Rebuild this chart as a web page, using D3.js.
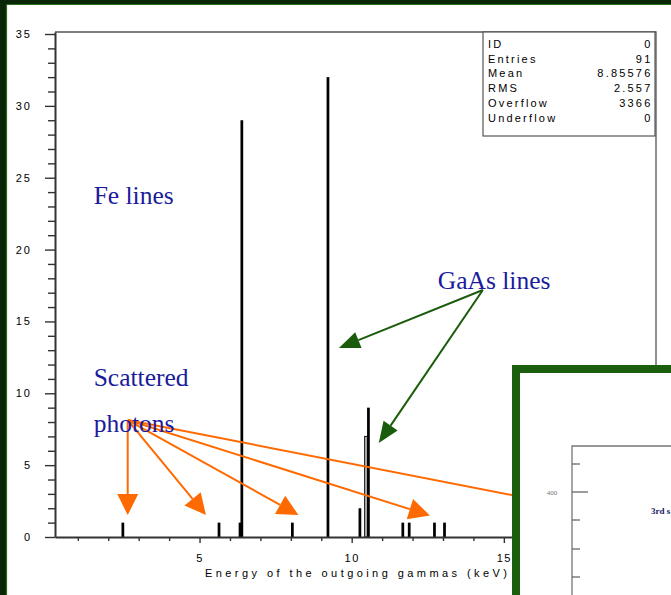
<!DOCTYPE html>
<html>
<head>
<meta charset="utf-8">
<script src="https://cdn.jsdelivr.net/npm/d3@7"></script>
<style>
  body { margin: 0; background: #fff; }
  svg { display: block; }
</style>
</head>
<body>
<div id="chart"></div>
<script>
// histogram lines (keV, counts)
const energies = [2.48, 5.64, 6.33, 6.39, 8.05, 9.22, 10.27, 10.55, 11.68, 11.89, 12.72, 13.05];
const counts   = [1, 1, 1, 29, 1, 32, 2, 9, 1, 1, 1, 1];
// second (grey) histogram
const greyEnergies = [10.47];
const greyCounts   = [7];

const yMajorTicks = [0, 5, 10, 15, 20, 25, 30, 35];
const xMajorTicks = [5, 10, 15, 20];

const statNames  = ["ID", "Entries", "Mean", "RMS", "Overflow", "Underflow"];
const statValues = ["0", "91", "8.85576", "2.557", "3366", "0"];

// annotations, in data coordinates (keV, counts)
const labels = [
    { text: "Fe lines",   e: 1.52,  v: 23.17 },
    { text: "GaAs lines", e: 12.83, v: 17.26 },
    { text: "Scattered",  e: 1.52,  v: 10.5 },
    { text: "photons",    e: 1.52,  v: 7.31 }
];
const greenFrom = { e: 14.31, v: 17.19 };
const greenTips = [{ e: 9.58, v: 13.15 }, { e: 10.89, v: 6.54 }];
const orangeFrom = { e: 2.64, v: 8.14 };
const orangeTips = [{ e: 2.64, v: 1.53 }, { e: 5.21, v: 1.53 }, { e: 8.25, v: 1.53 }, { e: 12.57, v: 1.5 }];
const orangeLong = { e: 18.8, v: 1.46 };

function drawChart() {
    const W = 671, H = 595;
    const svg = d3.select("#chart").append("svg")
        .attr("width", W)
        .attr("height", H);

    // dark green slide frame
    svg.append("rect").attr("x", 0).attr("y", 0).attr("width", W).attr("height", 5).attr("fill", "#0b2507");
    svg.append("rect").attr("x", 0).attr("y", 0).attr("width", 7).attr("height", H).attr("fill", "#0b2507");
    svg.append("line").attr("x1", 6.5).attr("x2", W).attr("y1", 4.5).attr("y2", 4.5)
        .attr("stroke", "#2c6e1c").attr("stroke-width", 1.2);
    svg.append("line").attr("x1", 6.5).attr("x2", 6.5).attr("y1", 4.5).attr("y2", H)
        .attr("stroke", "#2c6e1c").attr("stroke-width", 1.2);

    const x = d3.scaleLinear().domain([0.25, 20]).range([55, 656]);
    const y = d3.scaleLinear().domain([0, 35.14]).range([537, 32]);

    // plot frame (top and right)
    svg.append("path")
        .attr("d", `M${x(0.25)},${y(35.14)} H${x(20)} V${y(0)}`)
        .attr("fill", "none")
        .attr("stroke", "#555")
        .attr("stroke-width", 1.3);

    // bars
    const bw = x(0.09) - x(0);
    svg.selectAll(".grey")
        .data(greyEnergies)
        .enter()
        .append("rect")
        .attr("x", (d, i) => x(d) - bw / 2)
        .attr("y", (d, i) => y(greyCounts[i]))
        .attr("width", bw)
        .attr("height", (d, i) => y(0) - y(greyCounts[i]))
        .attr("fill", "#bdbdbd")
        .attr("stroke", "#111")
        .attr("stroke-width", 1);

    svg.selectAll(".bar")
        .data(energies)
        .enter()
        .append("rect")
        .attr("class", "bar")
        .attr("x", d => x(d) - bw / 2)
        .attr("y", (d, i) => y(counts[i]))
        .attr("width", bw)
        .attr("height", (d, i) => y(0) - y(counts[i]))
        .attr("fill", "#000");

    const font = "'Liberation Sans', Arial, sans-serif";

    // y axis
    const yMinor = d3.range(0, 36).filter(v => v % 5 !== 0);
    svg.append("g")
        .attr("transform", `translate(${x(0.25)},0)`)
        .call(d3.axisLeft(y).tickValues(yMinor).tickSize(7).tickSizeOuter(0).tickFormat(""))
        .call(g => g.select(".domain").remove());
    svg.append("g")
        .attr("class", "y-axis")
        .attr("transform", `translate(${x(0.25)},0)`)
        .call(d3.axisLeft(y).tickValues(yMajorTicks).tickSize(10).tickSizeOuter(0).tickPadding(13))
        .selectAll("text")
        .style("font-family", font)
        .style("font-size", "11px")
        .style("letter-spacing", "2px")
        .attr("fill", "#000");

    // x axis
    const xMinor = d3.range(1, 21).filter(v => v % 5 !== 0);
    svg.append("g")
        .attr("transform", `translate(0,${y(0)})`)
        .call(d3.axisBottom(x).tickValues(xMinor).tickSize(4).tickSizeOuter(0).tickFormat(""))
        .call(g => g.select(".domain").remove());
    svg.append("g")
        .attr("class", "x-axis")
        .attr("transform", `translate(0,${y(0)})`)
        .call(d3.axisBottom(x).tickValues(xMajorTicks).tickSize(6).tickSizeOuter(0).tickPadding(11))
        .selectAll("text")
        .style("font-family", font)
        .style("font-size", "11px")
        .style("letter-spacing", "1.5px")
        .attr("fill", "#000");

    svg.selectAll(".tick line").attr("stroke", "#333").attr("stroke-width", 1.4);
    svg.selectAll(".domain").attr("stroke", "#333").attr("stroke-width", 2);

    svg.append("text")
        .attr("x", 205)
        .attr("y", 577)
        .attr("textLength", 302)
        .attr("lengthAdjust", "spacing")
        .style("font-family", font)
        .style("font-size", "11px")
        .attr("fill", "#000")
        .text("Energy of the outgoing gammas (keV)");

    // statistics box
    const box = svg.append("g");
    box.append("rect")
        .attr("x", 483).attr("y", 32)
        .attr("width", 172).attr("height", 104)
        .attr("fill", "#fff")
        .attr("stroke", "#555")
        .attr("stroke-width", 1.2);
    statNames.forEach((name, i) => {
        const ty = 48 + i * 14.7;
        box.append("text")
            .attr("x", 488).attr("y", ty)
            .style("font-family", font).style("font-size", "11px")
            .style("letter-spacing", "2.2px")
            .attr("fill", "#000")
            .text(name);
        box.append("text")
            .attr("x", 652.5).attr("y", ty)
            .attr("text-anchor", "end")
            .style("font-family", font).style("font-size", "11px")
            .style("letter-spacing", "2.2px")
            .attr("fill", "#000")
            .text(statValues[i]);
    });

    // arrows
    function arrow(from, to, color, width, headLen, headHalf) {
        const x0 = x(from.e), y0 = y(from.v), x1 = x(to.e), y1 = y(to.v);
        const dx = x1 - x0, dy = y1 - y0, len = Math.hypot(dx, dy);
        const ux = dx / len, uy = dy / len;
        const bx = x1 - ux * headLen, by = y1 - uy * headLen;
        svg.append("line")
            .attr("x1", x0).attr("y1", y0).attr("x2", bx).attr("y2", by)
            .attr("stroke", color).attr("stroke-width", width);
        if (headLen > 0) {
            svg.append("polygon")
                .attr("points", [
                    [x1, y1],
                    [bx - uy * headHalf, by + ux * headHalf],
                    [bx + uy * headHalf, by - ux * headHalf]
                ].map(p => p.join(",")).join(" "))
                .attr("fill", color);
        }
    }

    greenTips.forEach(t => arrow(greenFrom, t, "#1b5b0c", 2, 21, 8.5));
    orangeTips.forEach(t => arrow(orangeFrom, t, "#ff6a00", 2, 21, 10.5));
    arrow(orangeFrom, orangeLong, "#ff6a00", 2, 0, 0);

    // text labels
    svg.selectAll(".label")
        .data(labels)
        .enter()
        .append("text")
        .attr("class", "label")
        .attr("x", d => x(d.e))
        .attr("y", d => y(d.v))
        .style("font-family", "'Liberation Serif', 'Times New Roman', serif")
        .style("font-size", "25.5px")
        .attr("fill", "#1b1b9c")
        .text(d => d.text);

    // inset slide (next picture, cut off by the window)
    const inset = svg.append("g");
    inset.append("rect")
        .attr("x", 516).attr("y", 369)
        .attr("width", 300).attr("height", 300)
        .attr("fill", "#fff")
        .attr("stroke", "#1b5e0e")
        .attr("stroke-width", 8);
    inset.append("path")
        .attr("d", "M572,600 V446 H680")
        .attr("fill", "none")
        .attr("stroke", "#777")
        .attr("stroke-width", 1.3);
    [464, 492, 520, 549, 577].forEach(ty => {
        inset.append("line")
            .attr("x1", 572).attr("x2", ty === 492 ? 588 : 580)
            .attr("y1", ty).attr("y2", ty)
            .attr("stroke", "#666").attr("stroke-width", 1.3);
    });
    inset.append("text")
        .attr("x", 552).attr("y", 494.5)
        .attr("text-anchor", "middle")
        .style("font-family", "'Liberation Serif', serif")
        .style("font-size", "7px")
        .attr("fill", "#777")
        .text("400");
    inset.append("text")
        .attr("x", 651).attr("y", 514)
        .style("font-family", "'Liberation Serif', serif")
        .style("font-size", "9px")
        .style("font-weight", "bold")
        .attr("fill", "#1a1a6a")
        .text("3rd s");
}

drawChart();
</script>
</body>
</html>
